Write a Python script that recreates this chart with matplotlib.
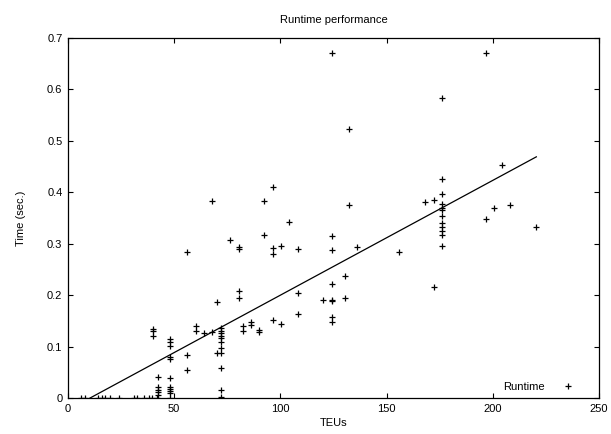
import matplotlib
matplotlib.use("Agg")
import matplotlib.pyplot as plt
import numpy as np

plt.rcParams['font.family'] = ['Liberation Sans', 'DejaVu Sans']

# Data
teus = [6, 8, 14, 16, 17.5, 20, 24, 31, 32.5, 36, 38, 39.5, 42, 48,
        40.2, 40.2, 40.2,
        42.2, 42.2, 42.2, 42.2, 42.2,
        48, 48, 48, 48, 48, 48, 48, 48, 48, 48,
        56, 56, 56,
        60.1, 60.1,
        64.2,
        68, 68,
        70.3, 70.3,
        72, 72, 72, 72, 72, 72, 72, 72, 72, 72, 72,
        76.2,
        80.3, 80.3, 80.3, 80.3,
        82.2, 82.2,
        86.1, 86.1,
        90, 90,
        92.2, 92.2,
        96.3, 96.3, 96.3, 96.3,
        100.2, 100.2,
        104.1,
        108.4, 108.4, 108.4,
        120.2,
        124.1, 124.1, 124.1, 124.1, 124.1, 124.1, 124.1, 124.1,
        130.4, 130.4,
        132.2, 132.2,
        136.2,
        156,
        168.3,
        172.2, 172.2,
        176.3, 176.3, 176.3, 176.3, 176.3, 176.3, 176.3, 176.3, 176.3, 176.3, 176.3, 176.3,
        196.6, 196.6,
        200.5,
        204.4,
        208.3,
        220.5]
times = [0, 0, 0, 0, 0, 0, 0, 0, 0, 0, 0, 0, 0, 0,
         0.135, 0.130, 0.120,
         0.041, 0.021, 0.016, 0.012, 0.006,
         0.115, 0.109, 0.101, 0.080, 0.076, 0.039, 0.022, 0.018, 0.014, 0.010,
         0.283, 0.084, 0.054,
         0.140, 0.131,
         0.126,
         0.129, 0.384,
         0.186, 0.088,
         0.136, 0.131, 0.126, 0.121, 0.116, 0.109, 0.097, 0.087, 0.058, 0.016, 0.001,
         0.307,
         0.294, 0.289, 0.208, 0.194,
         0.140, 0.131,
         0.148, 0.142,
         0.133, 0.128,
         0.384, 0.316,
         0.411, 0.291, 0.280, 0.152,
         0.296, 0.144,
         0.343,
         0.289, 0.204, 0.163,
         0.191,
         0.671, 0.315, 0.288, 0.222, 0.191, 0.188, 0.158, 0.148,
         0.237, 0.195,
         0.524, 0.375,
         0.294,
         0.284,
         0.382,
         0.385, 0.215,
         0.583, 0.426, 0.396, 0.377, 0.370, 0.366, 0.353, 0.340, 0.333, 0.325, 0.317, 0.296,
         0.670, 0.349,
         0.370,
         0.454,
         0.375,
         0.333]

fit_slope = 0.002232
fit_intercept = -0.02322

x_ticks = [0, 50, 100, 150, 200, 250]
y_ticks = [0, 0.1, 0.2, 0.3, 0.4, 0.5, 0.6, 0.7]
y_tick_labels = ["0", "0.1", "0.2", "0.3", "0.4", "0.5", "0.6", "0.7"]

fig = plt.figure(figsize=(6.11, 4.34), dpi=100)
ax = fig.add_axes([68/611, 36/434, 531/611, 360/434])

pts, = ax.plot(teus, times, linestyle='none', marker='+', color='black',
               markersize=5, markeredgewidth=0.9, label='Runtime')
xf = np.array([min(teus), max(teus)])
ax.plot(xf, fit_slope * xf + fit_intercept, color='black', linewidth=0.9)

ax.set_xlim(0, 250)
ax.set_ylim(0, 0.7)
ax.set_xticks(x_ticks)
ax.set_yticks(y_ticks)
ax.set_yticklabels(y_tick_labels)
ax.tick_params(direction='in', top=True, right=True, length=3.5, width=0.8,
               labelsize=8, pad=4)
for s in ax.spines.values():
    s.set_linewidth(0.9)

ax.set_title("Runtime performance", fontsize=8, pad=11)
ax.set_xlabel("TEUs", fontsize=8, labelpad=3)
ax.set_ylabel("Time (sec.)", fontsize=8, labelpad=15)

ax.legend(handles=[pts], loc='lower right', markerfirst=False, frameon=False,
          fontsize=8, handlelength=1.5, handletextpad=1.4,
          bbox_to_anchor=(0.977, -0.01))

fig.savefig("out.png", dpi=100)
